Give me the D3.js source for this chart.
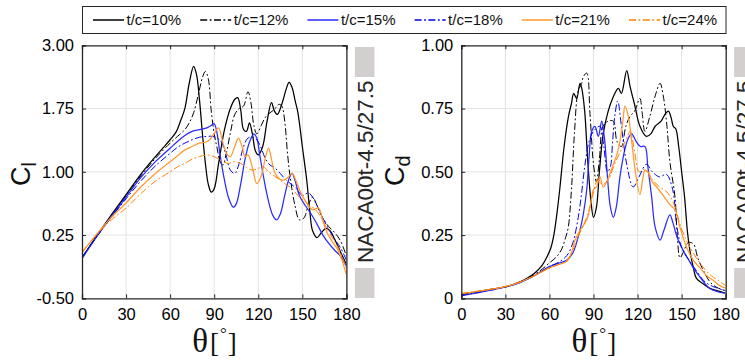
<!DOCTYPE html>
<html>
<head>
<meta charset="utf-8">
<script src="https://cdn.jsdelivr.net/npm/d3@7"></script>
<style>
  body { margin: 0; background: #fff; }
  svg { display: block; font-family: "Liberation Sans", Arial, sans-serif; }
</style>
</head>
<body>
<svg id="chart" width="745" height="362"></svg>
<script>
// ---- data ----
const seriesNames = ['t/c=10%', 't/c=12%', 't/c=15%', 't/c=18%', 't/c=21%', 't/c=24%'];
const seriesColors = ['#000000', '#000000', '#2a2aff', '#0000ee', '#ff9a2e', '#ff8000'];
const seriesDashed = [false, true, false, true, false, true];

const xTicks = [0, 30, 60, 90, 120, 150, 180];
const clTicks = [-0.5, 0.25, 1.0, 1.75, 2.5];
const clTickLabels = ['-0.50', '0.25', '1.00', '1.75', '3.00'];
const cdTicks = [0, 0.25, 0.5, 0.75, 1.0];
const cdTickLabels = ['0', '0.25', '0.50', '0.75', '1.00'];
const stripLabel = 'NACA00t-4.5/27.5';

// lift coefficient, [theta, Cl]
const cl10 = [[0,-0.02],[10,0.24],[20,0.49],[30,0.73],[40,0.97],[50,1.18],[55,1.28],[60,1.38],[64,1.47],[67,1.6],[70,1.75],[73,2.05],[76,2.25],[78,2.15],[80,1.85],[82,1.45],[84,1.1],[86,0.85],[88,0.76],[90,0.8],[93,1.1],[97,1.5],[101,1.75],[104,1.86],[106,1.88],[108,1.74],[110,1.5],[112,1.48],[114,1.58],[116,1.45],[118,1.25],[120,1.2],[123,1.3],[126,1.6],[129,1.82],[131,1.72],[133,1.68],[136,1.8],[139,1.98],[141,2.06],[143,2.0],[145,1.85],[147,1.7],[150,1.3],[153,0.9],[155,0.55],[157,0.3],[160,0.22],[163,0.28],[166,0.33],[169,0.3],[172,0.2],[176,0.05],[180,-0.1]];
const cl12 = [[0,-0.02],[10,0.23],[20,0.48],[30,0.72],[40,0.95],[50,1.16],[60,1.34],[65,1.42],[70,1.5],[73,1.58],[76,1.7],[79,1.9],[82,2.12],[84,2.19],[86,2.1],[88,1.72],[90,1.45],[92,1.28],[94,1.12],[96,1.08],[98,1.2],[101,1.46],[104,1.68],[107,1.75],[110,1.78],[113,1.95],[115,1.82],[117,1.55],[119,1.45],[122,1.55],[125,1.65],[128,1.7],[131,1.74],[134,1.8],[136,1.78],[138,1.6],[140,1.2],[142,0.9],[145,0.6],[148,0.43],[151,0.45],[154,0.6],[157,0.7],[160,0.6],[164,0.45],[168,0.35],[172,0.28],[176,0.18],[180,0.0]];
const cl15 = [[0,-0.03],[10,0.23],[20,0.47],[30,0.7],[40,0.93],[50,1.12],[60,1.28],[65,1.36],[70,1.43],[75,1.48],[80,1.5],[85,1.52],[88,1.55],[90,1.57],[92,1.45],[94,1.2],[97,0.9],[100,0.68],[103,0.58],[105,0.62],[108,0.85],[111,1.15],[114,1.35],[117,1.45],[119,1.4],[121,1.2],[124,0.9],[127,0.65],[130,0.48],[132.5,0.43],[135,0.5],[138,0.72],[141,0.92],[143,0.98],[145,0.9],[148,0.72],[152,0.6],[156,0.5],[160,0.38],[164,0.25],[168,0.15],[172,0.07],[176,0.0],[180,-0.12]];
const cl18 = [[0,-0.01],[10,0.23],[20,0.46],[30,0.68],[40,0.89],[50,1.07],[60,1.22],[65,1.29],[70,1.34],[75,1.38],[80,1.41],[85,1.42],[89,1.42],[92,1.4],[95,1.35],[98,1.2],[101,1.02],[104,0.98],[107,1.1],[110,1.3],[113,1.4],[116,1.41],[119,1.38],[122,1.28],[125,1.15],[128,1.08],[131,1.05],[135,0.98],[139,0.9],[142,0.86],[146,0.8],[150,0.72],[154,0.75],[157,0.7],[160,0.6],[164,0.45],[168,0.32],[172,0.2],[176,0.1],[180,-0.05]];
const cl21 = [[0,0.04],[10,0.26],[20,0.46],[30,0.63],[40,0.82],[50,0.98],[60,1.12],[65,1.19],[70,1.26],[75,1.3],[80,1.34],[84,1.35],[87,1.38],[90,1.45],[93,1.52],[96,1.34],[99,1.2],[101,1.18],[104,1.3],[106.5,1.4],[109,1.3],[111,1.18],[113,1.2],[116,1.05],[119,0.86],[122,0.95],[125,1.18],[127,1.28],[129,1.15],[131,1.0],[134,0.92],[137,0.9],[140,0.93],[143,0.98],[146,0.88],[149,0.75],[153,0.63],[157,0.55],[161,0.57],[164,0.42],[167,0.27],[170,0.18],[174,0.08],[177,-0.05],[180,-0.22]];
const cl24 = [[0,0.05],[10,0.25],[20,0.43],[30,0.57],[40,0.74],[50,0.89],[60,1.0],[65,1.06],[70,1.1],[75,1.15],[80,1.18],[85,1.2],[90,1.18],[93,1.15],[96,1.12],[100,1.1],[104,1.12],[108,1.1],[112,1.05],[116,1.02],[120,1.04],[123.4,1.06],[127,1.0],[131,0.95],[135,0.9],[139,0.85],[143,0.8],[147,0.72],[151,0.66],[155,0.6],[159,0.55],[163,0.45],[167,0.32],[171,0.2],[175,0.08],[180,-0.15]];

// drag coefficient, [theta, Cd]
const cd10 = [[0,0.015],[10,0.025],[20,0.035],[30,0.045],[40,0.065],[45,0.08],[50,0.1],[55,0.13],[58,0.16],[61,0.2],[63,0.25],[65,0.33],[67,0.43],[70,0.6],[73,0.72],[75,0.77],[76.5,0.81],[78.5,0.79],[80.8,0.85],[82,0.83],[84,0.74],[86,0.55],[88,0.4],[90,0.32],[92,0.36],[94,0.5],[96.6,0.65],[100,0.74],[103,0.79],[106.9,0.83],[109,0.81],[112.6,0.9],[114.8,0.84],[118.2,0.76],[121.6,0.68],[126,0.64],[129,0.65],[132,0.68],[136,0.7],[139,0.73],[141,0.74],[143,0.71],[144.3,0.68],[146,0.67],[148,0.6],[150,0.5],[152,0.4],[154,0.26],[155.6,0.19],[158,0.12],[160,0.08],[164,0.06],[169,0.04],[174,0.03],[180,0.02]];
const cd12 = [[0,0.015],[10,0.025],[20,0.035],[30,0.045],[40,0.065],[50,0.095],[55,0.115],[60,0.14],[65,0.165],[68.4,0.195],[71,0.24],[72.8,0.28],[75,0.43],[77,0.65],[79.6,0.82],[82,0.85],[83,0.875],[85.4,0.89],[87.6,0.73],[90,0.53],[92,0.46],[94,0.55],[96.5,0.68],[100,0.7],[103.5,0.7],[106,0.62],[109,0.6],[112,0.68],[115,0.72],[118,0.74],[121.6,0.79],[123,0.74],[125,0.66],[128.4,0.72],[132,0.8],[135.3,0.85],[137.5,0.8],[140,0.68],[142,0.54],[145.5,0.4],[147,0.25],[148.9,0.16],[151,0.18],[154.5,0.22],[158,0.215],[161,0.16],[164.8,0.11],[170,0.06],[175,0.04],[180,0.03]];
const cd15 = [[0,0.01],[10,0.02],[20,0.032],[30,0.045],[40,0.062],[50,0.09],[60,0.125],[67,0.14],[71.7,0.15],[76,0.18],[80.8,0.27],[83,0.33],[85.4,0.43],[87,0.56],[88.8,0.66],[91,0.68],[93.3,0.64],[95.6,0.7],[97.5,0.63],[99.5,0.48],[101.5,0.36],[103.5,0.32],[105.5,0.36],[108,0.48],[111,0.58],[113.5,0.63],[116,0.65],[119,0.62],[122,0.6],[125,0.6],[127,0.52],[129.6,0.4],[132,0.28],[135.3,0.23],[138,0.27],[142,0.33],[144,0.3],[147,0.24],[151,0.19],[155,0.15],[158,0.12],[163,0.08],[169,0.04],[175,0.025],[180,0.02]];
const cd18 = [[0,0.012],[10,0.022],[20,0.033],[30,0.045],[40,0.063],[50,0.09],[60,0.125],[67,0.145],[72,0.17],[76,0.22],[79.6,0.32],[82,0.42],[84,0.52],[87,0.62],[90,0.66],[94.4,0.68],[97,0.6],[99.5,0.5],[101.5,0.52],[103,0.62],[104.5,0.72],[106.5,0.78],[109,0.68],[112.6,0.53],[117,0.44],[121,0.48],[126,0.53],[130,0.5],[135,0.48],[139.6,0.49],[143.9,0.43],[146.6,0.29],[150,0.2],[155,0.15],[160,0.11],[165,0.07],[170,0.05],[180,0.03]];
const cd21 = [[0,0.018],[10,0.026],[20,0.035],[30,0.046],[40,0.064],[50,0.09],[60,0.12],[67,0.135],[71.7,0.145],[75,0.18],[77.4,0.23],[81,0.27],[85.4,0.31],[88,0.37],[90,0.43],[92,0.44],[94.4,0.48],[96.6,0.44],[99,0.46],[103.5,0.53],[106,0.57],[108,0.62],[110,0.7],[111.4,0.76],[113.7,0.72],[116,0.62],[118.5,0.5],[121.6,0.41],[123.5,0.47],[125,0.505],[127,0.5],[130,0.46],[133,0.44],[137,0.41],[142,0.37],[145.5,0.35],[148.9,0.28],[153.5,0.2],[158,0.15],[162.5,0.12],[167,0.09],[171.6,0.07],[176,0.05],[180,0.04]];
const cd24 = [[0,0.02],[10,0.027],[20,0.036],[30,0.047],[40,0.064],[50,0.09],[60,0.12],[67,0.135],[72,0.15],[76,0.19],[80,0.25],[84,0.3],[87,0.35],[90,0.42],[93,0.47],[96,0.45],[100,0.47],[105,0.54],[110,0.6],[113,0.64],[115,0.66],[118,0.58],[121,0.5],[125,0.51],[130,0.47],[135,0.44],[140,0.42],[145,0.37],[149,0.29],[154,0.22],[160,0.16],[165,0.12],[170,0.09],[175,0.07],[180,0.05]];

const clSeries = [cl10, cl12, cl15, cl18, cl21, cl24];
const cdSeries = [cd10, cd12, cd15, cd18, cd21, cd24];

// ---- layout ----
const svg = d3.select('#chart');
const plotTop = 45.3, plotBottom = 298.3;
const axisColor = '#262626';
const dashDot = '7,2.5,1.8,2.5';

function drawPanel(opts) {
  const x = d3.scaleLinear().domain([0, 180]).range([opts.left, opts.left + 264.4]);
  const y = d3.scaleLinear().domain(opts.domain).range([plotBottom, plotTop]);
  const g = svg.append('g');

  // grid
  g.append('g').selectAll('line').data(xTicks.slice(1, -1)).join('line')
    .attr('x1', d => x(d)).attr('x2', d => x(d))
    .attr('y1', plotTop).attr('y2', plotBottom)
    .attr('stroke', '#e3e3e3').attr('stroke-width', 1);
  g.append('g').selectAll('line').data(opts.ticks.slice(1, -1)).join('line')
    .attr('x1', x(0)).attr('x2', x(180))
    .attr('y1', d => y(d)).attr('y2', d => y(d))
    .attr('stroke', '#e3e3e3').attr('stroke-width', 1);

  // curves
  const clipId = 'clip' + opts.id;
  svg.append('clipPath').attr('id', clipId).append('rect')
    .attr('x', x(0)).attr('y', plotTop).attr('width', x(180) - x(0)).attr('height', plotBottom - plotTop);
  const line = d3.line().x(d => x(d[0])).y(d => y(d[1])).curve(d3.curveCatmullRom.alpha(0.5));
  g.append('g').attr('clip-path', `url(#${clipId})`)
    .selectAll('path').data(opts.series).join('path')
    .attr('d', d => line(d))
    .attr('fill', 'none')
    .attr('stroke', (d, i) => seriesColors[i])
    .attr('stroke-width', (d, i) => seriesDashed[i] ? 1 : 1.25)
    .attr('stroke-dasharray', (d, i) => seriesDashed[i] ? dashDot : null);

  // axes (box with inward ticks)
  const xb = d3.axisBottom(x).tickValues(xTicks).tickSize(-4).tickPadding(8);
  const xt = d3.axisTop(x).tickValues(xTicks).tickSize(-4).tickFormat('');
  const yl = d3.axisLeft(y).tickValues(opts.ticks).tickSize(-4).tickPadding(8)
    .tickFormat((d, i) => opts.tickLabels[i]);
  const yr = d3.axisRight(y).tickValues(opts.ticks).tickSize(-4).tickFormat('');
  const ax = [
    g.append('g').attr('transform', `translate(0,${plotBottom})`).call(xb),
    g.append('g').attr('transform', `translate(0,${plotTop})`).call(xt),
    g.append('g').attr('transform', `translate(${x(0)},0)`).call(yl),
    g.append('g').attr('transform', `translate(${x(180)},0)`).call(yr)
  ];
  ax.forEach(a => {
    a.select('.domain').attr('stroke', axisColor).attr('stroke-width', 1.3);
    a.selectAll('.tick line').attr('stroke', axisColor);
    a.selectAll('text').attr('fill', '#000').style('font-size', '16.5px')
      .style('font-family', '"Liberation Sans", Arial, sans-serif');
  });
  ax[0].selectAll('text').attr('dy', '0.85em');

  // y title
  const yt = g.append('text')
    .attr('transform', `translate(${opts.titleX},${opts.titleY}) rotate(-90)`)
    .attr('fill', '#111').style('font-size', '27px');
  yt.append('tspan').text('C');
  yt.append('tspan').attr('dy', 6).style('font-size', '20px').text(opts.sub);

  // x title
  const xtl = g.append('text')
    .attr('x', x(90) - 22).attr('y', 352)
    .attr('fill', '#111')
    .style('font-family', '"Liberation Serif", "Times New Roman", serif');
  xtl.append('tspan').style('font-size', '33px').text('θ');
  xtl.append('tspan').attr('dx', 2).style('font-size', '27px').text('[');
  xtl.append('tspan').attr('dx', 1).attr('dy', -13).style('font-size', '17px').text('°');
  xtl.append('tspan').attr('dx', 1).attr('dy', 13).style('font-size', '27px').text(']');

  // side strip
  const sx = opts.left + 264.4 + 8.5;
  g.append('rect').attr('x', sx).attr('y', 47).attr('width', 19.5).attr('height', 30).attr('fill', '#d2cfce');
  g.append('rect').attr('x', sx).attr('y', 268).attr('width', 19.5).attr('height', 30).attr('fill', '#d2cfce');
  g.append('text')
    .attr('transform', `translate(${sx + 10},${(plotTop + plotBottom) / 2}) rotate(-90)`)
    .attr('text-anchor', 'middle').attr('dy', '0.36em')
    .attr('fill', '#262626').style('font-size', '22.5px')
    .text(stripLabel);
}

drawPanel({ id: 'cl', left: 82, domain: [-0.5, 2.5], ticks: clTicks, tickLabels: clTickLabels,
  series: clSeries, sub: 'l', titleX: 30, titleY: 186 });
drawPanel({ id: 'cd', left: 461.3, domain: [0, 1], ticks: cdTicks, tickLabels: cdTickLabels,
  series: cdSeries, sub: 'd', titleX: 404, titleY: 186 });

// ---- legend ----
const legend = svg.append('g');
legend.append('rect').attr('x', 82.5).attr('y', 6.5).attr('width', 643.5).attr('height', 27)
  .attr('fill', '#fff').attr('stroke', axisColor).attr('stroke-width', 1);
const item = legend.selectAll('g.item').data(seriesNames).join('g')
  .attr('class', 'item')
  .attr('transform', (d, i) => `translate(${93 + i * 107.2},20)`);
item.append('line').attr('x1', 0).attr('x2', 31).attr('y1', 0).attr('y2', 0)
  .attr('stroke', (d, i) => seriesColors[i])
  .attr('stroke-width', (d, i) => seriesDashed[i] ? 1.3 : 1.5)
  .attr('stroke-dasharray', (d, i) => seriesDashed[i] ? dashDot : null);
item.append('text').attr('x', 33.5).attr('dy', '0.36em')
  .attr('fill', '#111').style('font-size', '15px').text(d => d);
</script>
</body>
</html>
